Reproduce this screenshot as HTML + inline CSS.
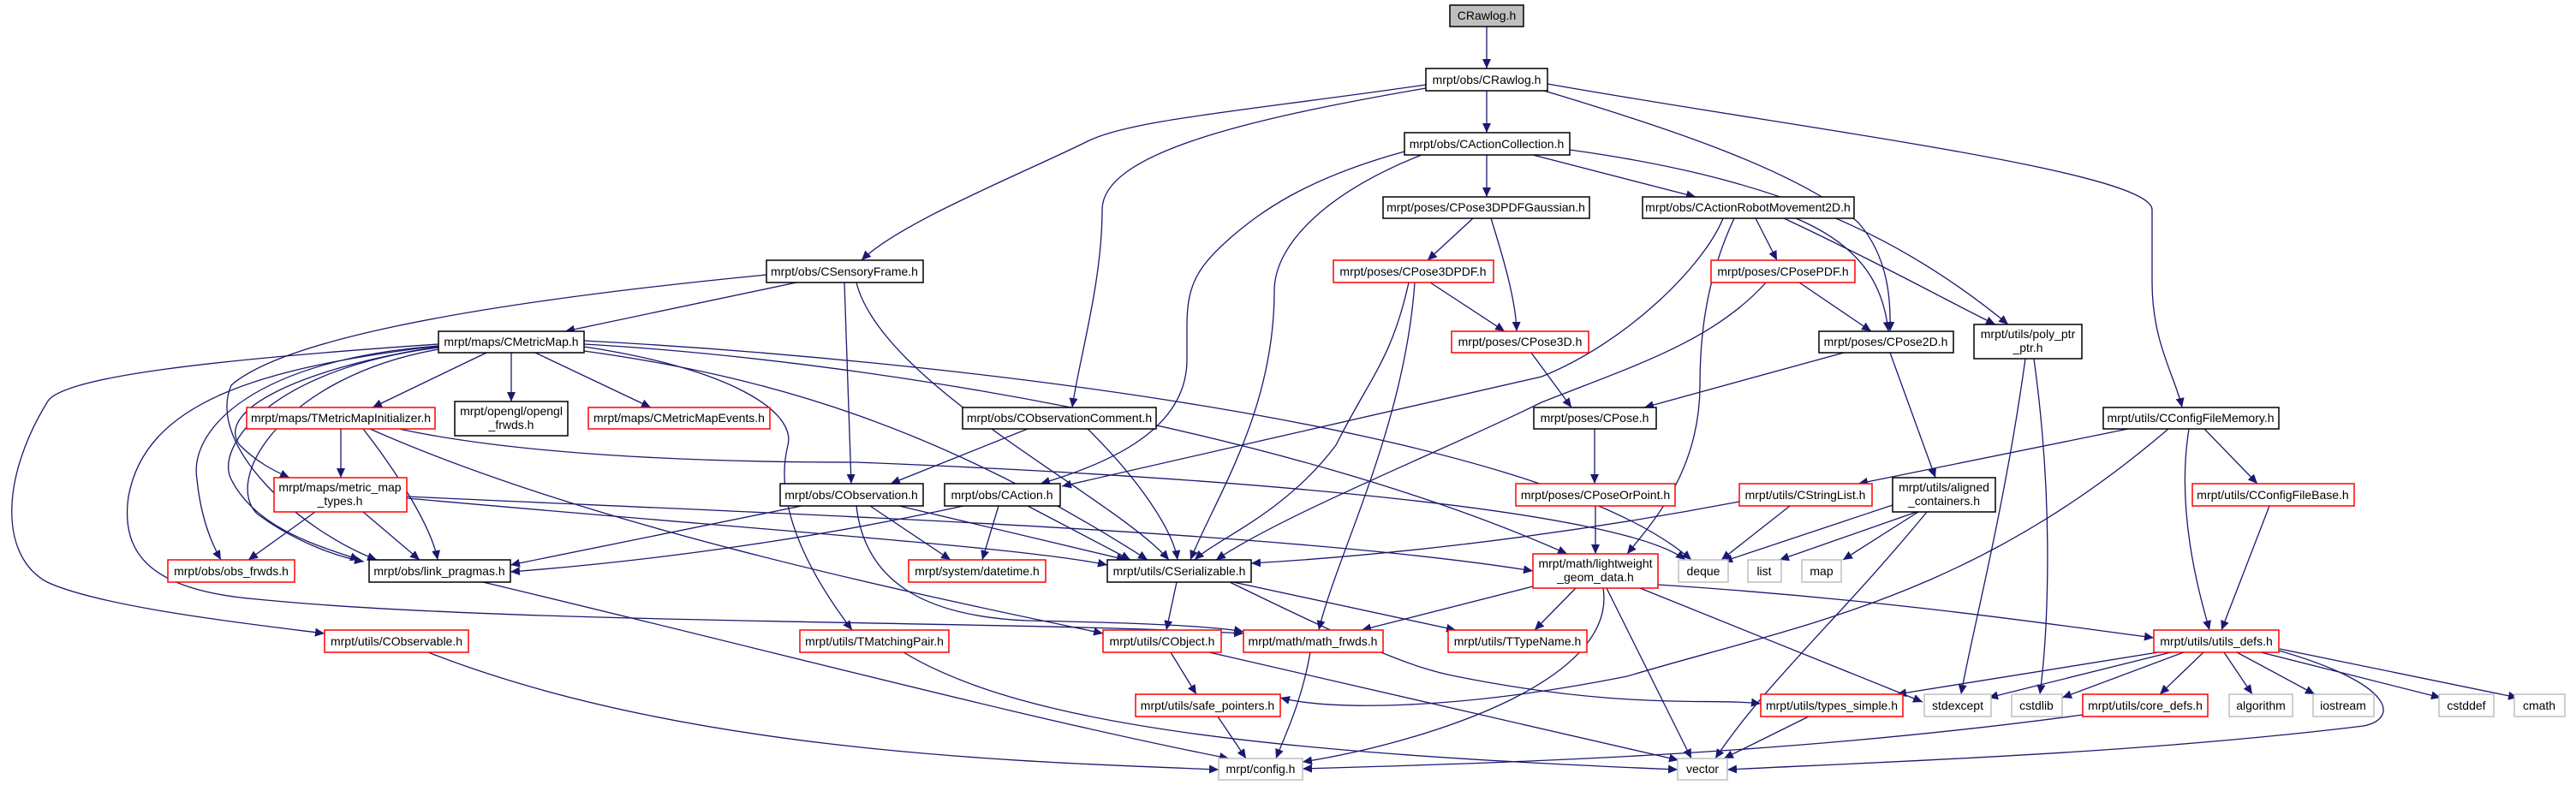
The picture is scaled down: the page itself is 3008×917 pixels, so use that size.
<!DOCTYPE html>
<html><head><meta charset="utf-8"><style>
html,body{margin:0;padding:0;background:#fff;}
svg{display:block;}
text{font-family:"Liberation Sans",Helvetica,sans-serif;font-size:14px;fill:#000;text-anchor:middle;}
.e{fill:none;stroke:#191970;stroke-width:1.3;marker-end:url(#a);}
.b{fill:#fff;stroke:#000;stroke-width:1.5;}
.r{fill:#fff;stroke:#ff0000;stroke-width:1.5;}
.g{fill:#fff;stroke:#bfbfbf;stroke-width:1.5;}
</style></head><body>
<svg width="3008" height="917" viewBox="0 0 3008 917" xmlns="http://www.w3.org/2000/svg">
<defs><marker id="a" markerUnits="userSpaceOnUse" markerWidth="12" markerHeight="10" refX="11" refY="5" orient="auto"><path d="M0,0 L11,5 L0,10 z" fill="#191970"/></marker></defs>
<g>
<path class="e" d="M1736 31 L1736 80"/>
<path class="e" d="M1736 106 L1736 155"/>
<path class="e" d="M1665 99 C1450 130,1320 140,1270 165 C1200 200,1050 260,1006 304"/>
<path class="e" d="M1665 103 C1450 140,1287 180,1287 245 C1287 330,1260 420,1252 476"/>
<path class="e" d="M1803 106 C1950 150,2100 200,2170 260 C2205 300,2208 350,2207 387"/>
<path class="e" d="M1807 98 C2100 150,2513 200,2513 245 L2513 330 C2513 400,2540 440,2548 476"/>
<path class="e" d="M1736 181 L1736 230"/>
<path class="e" d="M1790 181 L1980 230"/>
<path class="e" d="M1833 175 C2050 205,2200 260,2345 379"/>
<path class="e" d="M1640 177 C1520 210,1470 250,1440 275 C1400 310,1386 330,1386 380 L1386 420 C1386 500,1300 540,1215 565"/>
<path class="e" d="M1660 181 C1560 220,1488 280,1488 340 C1488 480,1420 580,1390 654"/>
<path class="e" d="M1720 255 L1667 304"/>
<path class="e" d="M1741 255 C1755 300,1770 350,1771 387"/>
<path class="e" d="M1670 330 L1757 387"/>
<path class="e" d="M1645 330 C1625 420,1600 440,1560 520 C1500 600,1420 630,1395 654"/>
<path class="e" d="M1652 330 C1640 500,1560 650,1540 736"/>
<path class="e" d="M2050 255 L2075 304"/>
<path class="e" d="M2097 255 C2180 290,2200 340,2205 387"/>
<path class="e" d="M2083 255 C2200 310,2290 360,2330 379"/>
<path class="e" d="M2012 255 C1990 310,1900 400,1800 440 L1240 568"/>
<path class="e" d="M2025 255 C1990 330,1985 400,1985 450 C1985 550,1930 610,1900 647"/>
<path class="e" d="M2062 330 C2000 400,1900 430,1800 470 C1700 520,1500 600,1420 654"/>
<path class="e" d="M2101 330 L2185 387"/>
<path class="e" d="M1788 412 L1835 476"/>
<path class="e" d="M2153 412 L1920 476"/>
<path class="e" d="M2207 412 L2260 558"/>
<path class="e" d="M1862 501 L1862 565"/>
<path class="e" d="M1863 591 L1863 647"/>
<path class="e" d="M2365 419 C2340 600,2300 750,2290 811"/>
<path class="e" d="M2375 419 C2400 600,2390 750,2382 811"/>
<path class="e" d="M930 330 L660 387"/>
<path class="e" d="M986 330 L994 565"/>
<path class="e" d="M1000 330 C1030 450,1300 580,1365 654"/>
<path class="e" d="M895 321 C700 340,350 380,270 450 C240 520,350 620,440 654"/>
<path class="e" d="M568 412 L435 476"/>
<path class="e" d="M597 412 L597 469"/>
<path class="e" d="M625 412 L760 476"/>
<path class="e" d="M512 405 C350 430,250 480,280 520 C300 540,320 550,338 558"/>
<path class="e" d="M512 404 C300 420,220 500,230 560 C235 610,250 640,258 654"/>
<path class="e" d="M512 406 C320 430,250 520,270 560 C300 620,380 640,420 654"/>
<path class="e" d="M512 408 C330 440,260 560,300 600 C340 630,390 650,425 656"/>
<path class="e" d="M512 402 C250 420,70 440,55 470 C0 560,0 650,55 680 C120 710,300 730,379 740"/>
<path class="e" d="M512 404 C300 430,170 470,150 580 C140 650,180 690,300 700 C600 730,1200 725,1452 740"/>
<path class="e" d="M682 405 C850 430,930 480,920 520 C900 600,960 690,995 736"/>
<path class="e" d="M682 402 C1000 420,1500 500,1830 647"/>
<path class="e" d="M682 398 C1100 420,1800 500,1975 654"/>
<path class="e" d="M682 410 C900 440,1100 500,1340 654"/>
<path class="e" d="M398 501 L398 558"/>
<path class="e" d="M424 501 C470 560,505 620,511 654"/>
<path class="e" d="M466 501 C600 530,800 540,1000 540 C1500 560,1900 600,1968 654"/>
<path class="e" d="M432 501 C700 620,1100 700,1288 740"/>
<path class="e" d="M368 598 L290 654"/>
<path class="e" d="M424 598 L490 654"/>
<path class="e" d="M475 582 C900 620,1200 640,1293 660"/>
<path class="e" d="M475 580 C900 600,1500 620,1790 667"/>
<path class="e" d="M1200 501 L1040 565"/>
<path class="e" d="M1270 501 C1330 560,1370 620,1375 654"/>
<path class="e" d="M936 591 L596 660"/>
<path class="e" d="M1050 591 L1315 654"/>
<path class="e" d="M1016 591 L1110 654"/>
<path class="e" d="M1000 591 C1010 680,1080 720,1200 725 C1350 728,1420 732,1452 738"/>
<path class="e" d="M1125 591 C900 640,700 660,596 668"/>
<path class="e" d="M1200 591 L1320 654"/>
<path class="e" d="M1166 591 L1147 654"/>
<path class="e" d="M1374 680 L1362 736"/>
<path class="e" d="M1440 680 L1700 736"/>
<path class="e" d="M1436 680 C1600 760,1650 780,1700 790 C1900 830,2000 815,2056 822"/>
<path class="e" d="M1790 685 L1590 736"/>
<path class="e" d="M1840 687 L1792 736"/>
<path class="e" d="M1872 687 C1890 800,1650 870,1521 890"/>
<path class="e" d="M1876 687 L1975 886"/>
<path class="e" d="M1915 687 L2245 820"/>
<path class="e" d="M1936 683 C2200 700,2400 730,2515 745"/>
<path class="e" d="M2090 591 L2010 654"/>
<path class="e" d="M2031 586 C1800 630,1600 650,1461 658"/>
<path class="e" d="M2210 590 L2012 656"/>
<path class="e" d="M2238 598 L2078 654"/>
<path class="e" d="M2240 598 L2152 654"/>
<path class="e" d="M2250 598 C2150 720,2060 800,2003 886"/>
<path class="e" d="M2485 501 L2170 565"/>
<path class="e" d="M2532 501 C2300 700,2100 730,1900 790 C1700 830,1550 830,1495 815"/>
<path class="e" d="M2556 501 C2540 600,2570 700,2580 736"/>
<path class="e" d="M2574 501 L2636 565"/>
<path class="e" d="M2650 591 L2594 736"/>
<path class="e" d="M2520 762 L2215 811"/>
<path class="e" d="M2535 762 L2322 815"/>
<path class="e" d="M2550 762 L2408 815"/>
<path class="e" d="M2573 762 L2522 811"/>
<path class="e" d="M2597 762 L2630 811"/>
<path class="e" d="M2612 762 L2703 811"/>
<path class="e" d="M2640 762 L2850 815"/>
<path class="e" d="M2662 758 L2940 815"/>
<path class="e" d="M2661 760 C2800 800,2800 840,2760 848 C2500 880,2200 890,2017 899"/>
<path class="e" d="M2112 837 L2013 886"/>
<path class="e" d="M2432 835 C2100 880,1800 890,1521 898"/>
<path class="e" d="M1367 762 L1397 811"/>
<path class="e" d="M1412 762 L1960 888"/>
<path class="e" d="M1422 837 L1455 886"/>
<path class="e" d="M1530 762 C1520 820,1500 860,1490 886"/>
<path class="e" d="M1055 762 C1200 850,1500 880,1959 899"/>
<path class="e" d="M500 762 C800 880,1200 890,1423 899"/>
<path class="e" d="M564 680 C900 760,1200 840,1435 886"/>
</g>
<g>
<rect x="1693" y="6" width="86" height="25" fill="#bfbfbf" stroke="#000" stroke-width="1.5"/><text x="1736" y="23">CRawlog.h</text>
<rect class="b" x="1665" y="80" width="142" height="26"/><text x="1736" y="98">mrpt/obs/CRawlog.h</text>
<rect class="b" x="1640" y="155" width="193" height="26"/><text x="1736" y="173">mrpt/obs/CActionCollection.h</text>
<rect class="b" x="1615" y="230" width="241" height="25"/><text x="1735" y="247">mrpt/poses/CPose3DPDFGaussian.h</text>
<rect class="b" x="1918" y="230" width="247" height="25"/><text x="2041" y="247">mrpt/obs/CActionRobotMovement2D.h</text>
<rect class="b" x="895" y="304" width="183" height="26"/><text x="986" y="322">mrpt/obs/CSensoryFrame.h</text>
<rect class="r" x="1557" y="304" width="187" height="26"/><text x="1650" y="322">mrpt/poses/CPose3DPDF.h</text>
<rect class="r" x="1998" y="304" width="168" height="26"/><text x="2082" y="322">mrpt/poses/CPosePDF.h</text>
<rect class="r" x="1695" y="387" width="160" height="25"/><text x="1775" y="404">mrpt/poses/CPose3D.h</text>
<rect class="b" x="2124" y="387" width="157" height="25"/><text x="2202" y="404">mrpt/poses/CPose2D.h</text>
<rect class="b" x="2305" y="379" width="126" height="40"/><text x="2368" y="395">mrpt/utils/poly_ptr</text><text x="2368" y="411">_ptr.h</text>
<rect class="b" x="512" y="387" width="170" height="25"/><text x="597" y="404">mrpt/maps/CMetricMap.h</text>
<rect class="r" x="288" y="476" width="220" height="25"/><text x="398" y="493">mrpt/maps/TMetricMapInitializer.h</text>
<rect class="b" x="531" y="469" width="132" height="40"/><text x="597" y="485">mrpt/opengl/opengl</text><text x="597" y="501">_frwds.h</text>
<rect class="r" x="687" y="476" width="212" height="25"/><text x="793" y="493">mrpt/maps/CMetricMapEvents.h</text>
<rect class="b" x="1124" y="476" width="226" height="25"/><text x="1237" y="493">mrpt/obs/CObservationComment.h</text>
<rect class="b" x="1791" y="476" width="143" height="25"/><text x="1862" y="493">mrpt/poses/CPose.h</text>
<rect class="b" x="2456" y="476" width="205" height="25"/><text x="2558" y="493">mrpt/utils/CConfigFileMemory.h</text>
<rect class="r" x="320" y="558" width="155" height="40"/><text x="397" y="574">mrpt/maps/metric_map</text><text x="397" y="590">_types.h</text>
<rect class="b" x="911" y="565" width="167" height="26"/><text x="994" y="583">mrpt/obs/CObservation.h</text>
<rect class="b" x="1103" y="565" width="135" height="26"/><text x="1170" y="583">mrpt/obs/CAction.h</text>
<rect class="r" x="1770" y="565" width="186" height="26"/><text x="1863" y="583">mrpt/poses/CPoseOrPoint.h</text>
<rect class="r" x="2031" y="565" width="155" height="26"/><text x="2108" y="583">mrpt/utils/CStringList.h</text>
<rect class="b" x="2210" y="558" width="120" height="40"/><text x="2270" y="574">mrpt/utils/aligned</text><text x="2270" y="590">_containers.h</text>
<rect class="r" x="2560" y="565" width="189" height="26"/><text x="2654" y="583">mrpt/utils/CConfigFileBase.h</text>
<rect class="r" x="196" y="654" width="148" height="26"/><text x="270" y="672">mrpt/obs/obs_frwds.h</text>
<rect class="b" x="431" y="654" width="165" height="26"/><text x="513" y="672">mrpt/obs/link_pragmas.h</text>
<rect class="r" x="1061" y="654" width="160" height="26"/><text x="1141" y="672">mrpt/system/datetime.h</text>
<rect class="b" x="1293" y="654" width="168" height="26"/><text x="1377" y="672">mrpt/utils/CSerializable.h</text>
<rect class="r" x="1790" y="647" width="146" height="40"/><text x="1863" y="663">mrpt/math/lightweight</text><text x="1863" y="679">_geom_data.h</text>
<rect class="g" x="1960" y="654" width="58" height="26"/><text x="1989" y="672">deque</text>
<rect class="g" x="2041" y="654" width="39" height="26"/><text x="2060" y="672">list</text>
<rect class="g" x="2104" y="654" width="46" height="26"/><text x="2127" y="672">map</text>
<rect class="r" x="379" y="736" width="168" height="26"/><text x="463" y="754">mrpt/utils/CObservable.h</text>
<rect class="r" x="934" y="736" width="174" height="26"/><text x="1021" y="754">mrpt/utils/TMatchingPair.h</text>
<rect class="r" x="1288" y="736" width="138" height="26"/><text x="1357" y="754">mrpt/utils/CObject.h</text>
<rect class="r" x="1452" y="736" width="163" height="26"/><text x="1533" y="754">mrpt/math/math_frwds.h</text>
<rect class="r" x="1691" y="736" width="162" height="26"/><text x="1772" y="754">mrpt/utils/TTypeName.h</text>
<rect class="r" x="2515" y="736" width="146" height="26"/><text x="2588" y="754">mrpt/utils/utils_defs.h</text>
<rect class="r" x="1326" y="811" width="169" height="26"/><text x="1410" y="829">mrpt/utils/safe_pointers.h</text>
<rect class="r" x="2056" y="811" width="166" height="26"/><text x="2139" y="829">mrpt/utils/types_simple.h</text>
<rect class="g" x="2247" y="811" width="78" height="26"/><text x="2286" y="829">stdexcept</text>
<rect class="g" x="2349" y="811" width="59" height="26"/><text x="2378" y="829">cstdlib</text>
<rect class="r" x="2432" y="811" width="146" height="26"/><text x="2505" y="829">mrpt/utils/core_defs.h</text>
<rect class="g" x="2603" y="811" width="74" height="26"/><text x="2640" y="829">algorithm</text>
<rect class="g" x="2701" y="811" width="71" height="26"/><text x="2736" y="829">iostream</text>
<rect class="g" x="2848" y="811" width="64" height="26"/><text x="2880" y="829">cstddef</text>
<rect class="g" x="2936" y="811" width="59" height="26"/><text x="2965" y="829">cmath</text>
<rect class="g" x="1423" y="886" width="98" height="25"/><text x="1472" y="903">mrpt/config.h</text>
<rect class="g" x="1959" y="886" width="58" height="25"/><text x="1988" y="903">vector</text>
</g>
</svg>
</body></html>
